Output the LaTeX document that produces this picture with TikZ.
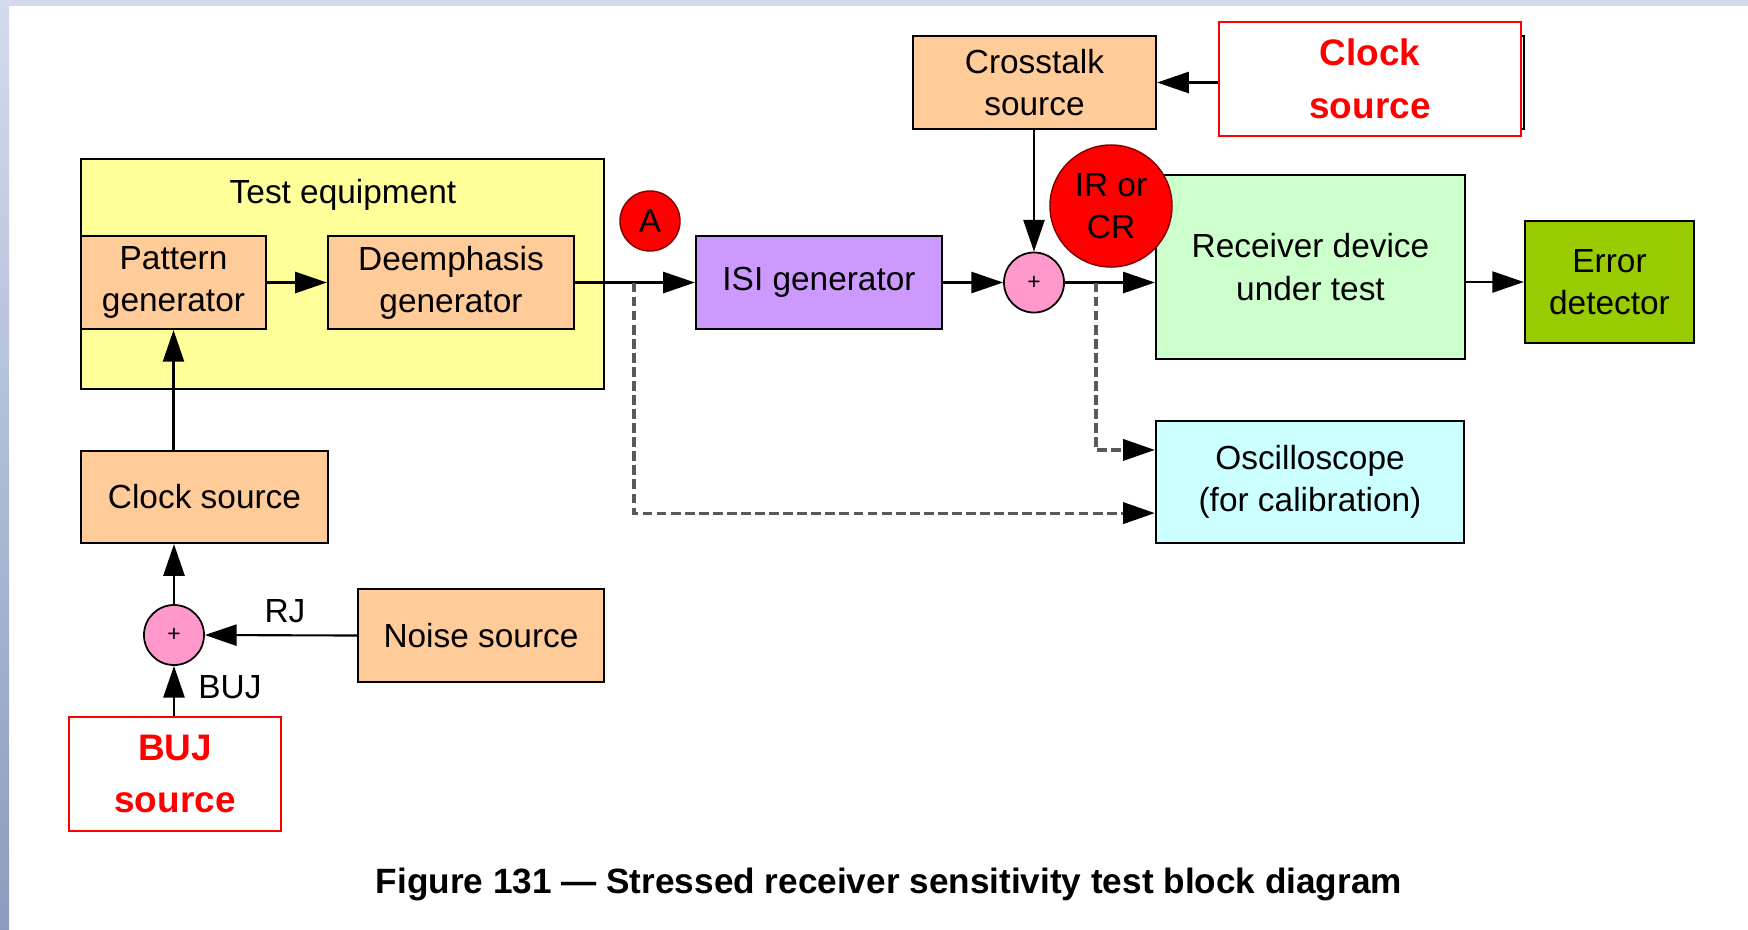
\documentclass[tikz,border=0pt]{standalone}
\usepackage{fontspec}
\setmainfont{Liberation Sans}
\usetikzlibrary{arrows.meta,positioning}
\definecolor{peach}{HTML}{FFCC99}
\definecolor{paleyellow}{HTML}{FFFF99}
\definecolor{lilac}{HTML}{CC99FF}
\definecolor{pinksum}{HTML}{FF99CC}
\definecolor{palegreen}{HTML}{CCFFCC}
\definecolor{olivegreen}{HTML}{99CC00}
\definecolor{palecyan}{HTML}{CCFFFF}
\definecolor{slidetop}{HTML}{D2DBEE}
\definecolor{slidebottom}{HTML}{8D9BBE}
\begin{document}
\begin{tikzpicture}[
    x=0.01cm, y=-0.01cm,
    every node/.style={font=\fontsize{9.5}{12}\selectfont, align=center, inner sep=0pt},
    block/.style={rectangle, draw, line width=0.6pt, fill=peach},
    redbox/.style={rectangle, draw=red, line width=0.6pt, fill=white, text=red,
        font=\fontsize{10.5}{15}\selectfont\bfseries},
    summer/.style={circle, draw, line width=0.5pt, fill=pinksum, minimum size=0.6cm,
        font=\fontsize{6.5}{7}\selectfont},
    marker/.style={circle, fill=red, draw=red!50!black, line width=0.4pt},
    link/.style={line width=0.6pt, -{Triangle[length=9pt, width=6pt]}},
    probe/.style={line width=0.9pt, draw=black!65, dash pattern=on 2.8pt off 1.2pt,
        -{Triangle[length=9pt, width=6pt, black]}}
]
\useasboundingbox (0,0) rectangle (1748,929);
\fill[white] (0,0) rectangle (1748,929);
\fill[slidetop] (0,0) rectangle (1748,6);
\shade[top color=slidetop, bottom color=slidebottom] (0,0) rectangle (9,929);

\node[rectangle, draw, line width=0.6pt, fill=paleyellow, minimum width=5.23cm, minimum height=2.30cm] (testeq) at (342.5,274) {};
\node[anchor=base] (testeqlabel) at (343,203) {Test equipment};
\node[block, minimum width=1.85cm, minimum height=0.93cm] (pattern) at (173.5,282.5) {Pattern\\generator};
\node[block, minimum width=2.46cm, minimum height=0.93cm] (deemph) at (451,282.5) {Deemphasis\\generator};
\node[marker, minimum size=0.6cm] (pointa) at (650,221) {A};
\node[rectangle, draw, line width=0.6pt, fill=lilac, minimum width=2.46cm, minimum height=0.93cm] (isi) at (819,282.5) {ISI generator};
\node[summer] (sum) at (1034,282.5) {+};
\node[block, minimum width=2.43cm, minimum height=0.93cm] (xtalk) at (1034.5,82.5) {Crosstalk\\source};
\draw[line width=0.6pt] (1280,36) rectangle (1524,129);
\node[redbox, minimum width=3.02cm, minimum height=1.14cm] (clkred) at (1370,79) {Clock\\source};
\node[rectangle, draw, line width=0.6pt, fill=palegreen, minimum width=3.09cm, minimum height=1.84cm] (rx) at (1310.5,267) {Receiver device\\under test};
\node[marker, minimum size=1.22cm] (ircr) at (1111,206) {IR or\\CR};
\node[rectangle, draw, line width=0.6pt, fill=olivegreen, minimum width=1.69cm, minimum height=1.22cm] (errdet) at (1609.5,282) {Error\\detector};
\node[rectangle, draw, line width=0.6pt, fill=palecyan, minimum width=3.08cm, minimum height=1.22cm] (scope) at (1310,482) {Oscilloscope\\(for calibration)};
\node[block, minimum width=2.47cm, minimum height=0.92cm] (clock) at (204.5,497) {Clock source};
\node[summer] (jsum) at (174,635) {+};
\node[block, minimum width=2.46cm, minimum height=0.93cm] (noise) at (481,635.5) {Noise source};
\node[redbox, minimum width=2.12cm, minimum height=1.14cm] (buj) at (175,774) {BUJ\\source};
\node (rj) at (285,611) {RJ};
\node (bujlabel) at (230,687) {BUJ};
\coordinate (tapa) at (634,282.5);
\coordinate (tapb) at (1096,282.5);

\draw[link] (pattern.east) -- (deemph.west);
\draw[link] (deemph.east) -- (isi.west);
\draw[link] (isi.east) -- (sum.west);
\draw[link] (sum.east) -- (rx.west |- sum.east);
\draw[link] (rx.east |- errdet.west) -- (errdet.west);
\draw[link] (xtalk.south -| sum.north) -- (sum.north);
\draw[link] (clkred.west |- xtalk.east) -- (xtalk.east);
\draw[link] (clock.north -| pattern.south) -- (pattern.south);
\draw[link] (jsum.north) -- (jsum.north |- clock.south);
\draw[link] (buj.north -| jsum.south) -- (jsum.south);
\draw[link] (noise.west) -- (jsum.east);
\draw[probe] (tapa) |- ([yshift=0.31cm]scope.south west);
\draw[probe] (tapb) |- ([yshift=-0.30cm]scope.north west);

\node[font=\fontsize{10}{12}\selectfont\bfseries] (caption) at (889,884) {Figure 131 — Stressed receiver sensitivity test block diagram};
\end{tikzpicture}
\end{document}
